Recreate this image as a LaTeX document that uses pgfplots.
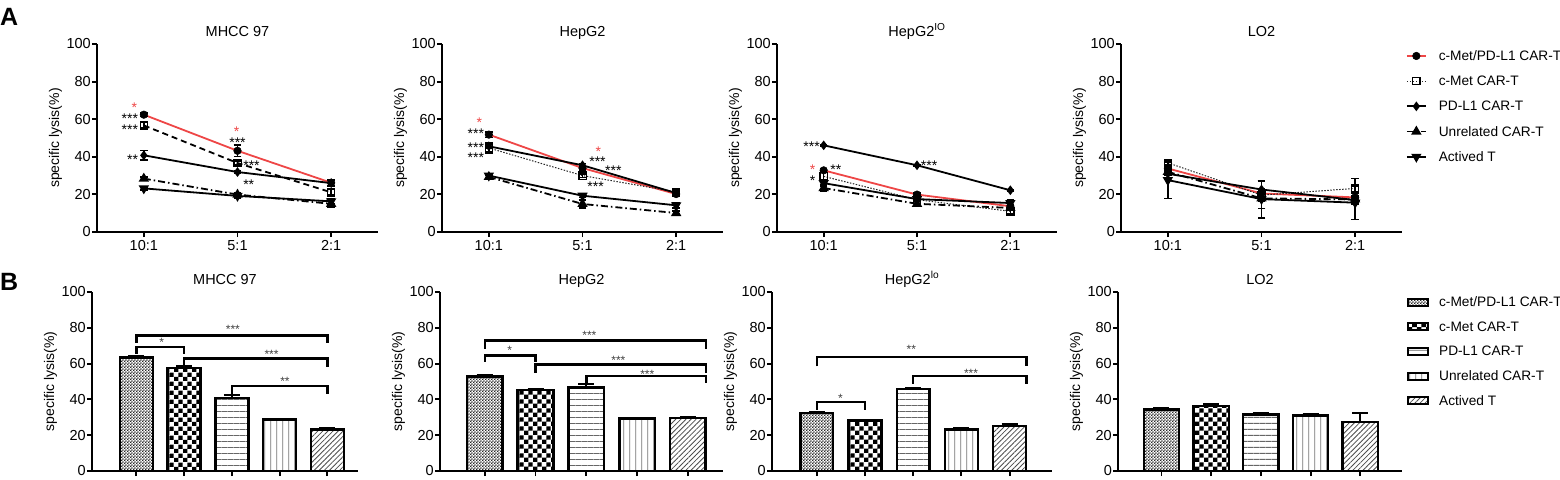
\documentclass[border=0pt]{standalone}
\usepackage{fontspec}
\setmainfont{Liberation Sans}
\usepackage{pgfplots}
\pgfplotsset{compat=1.18}
\usetikzlibrary{patterns,patterns.meta}
\definecolor{myred}{RGB}{238,70,70}

\pgfdeclarepatternformonly{bigcheck}{\pgfqpoint{0pt}{0pt}}{\pgfqpoint{9.2pt}{9.2pt}}{\pgfqpoint{9.2pt}{9.2pt}}{%
  \pgfpathrectangle{\pgfqpoint{0pt}{0pt}}{\pgfqpoint{4.6pt}{4.6pt}}%
  \pgfpathrectangle{\pgfqpoint{4.6pt}{4.6pt}}{\pgfqpoint{4.6pt}{4.6pt}}%
  \pgfusepath{fill}}
\pgfdeclarepatternformonly{smallcheck}{\pgfqpoint{0pt}{0pt}}{\pgfqpoint{3.2pt}{3.2pt}}{\pgfqpoint{3.2pt}{3.2pt}}{%
  \pgfpathrectangle{\pgfqpoint{0pt}{0pt}}{\pgfqpoint{1.6pt}{1.6pt}}%
  \pgfpathrectangle{\pgfqpoint{1.6pt}{1.6pt}}{\pgfqpoint{1.6pt}{1.6pt}}%
  \pgfusepath{fill}}
\pgfdeclarepatternformonly{hlines}{\pgfqpoint{0pt}{0pt}}{\pgfqpoint{6pt}{6pt}}{\pgfqpoint{6pt}{6pt}}{%
  \pgfsetlinewidth{0.9pt}%
  \pgfpathmoveto{\pgfqpoint{-0.5pt}{3pt}}\pgfpathlineto{\pgfqpoint{6.5pt}{3pt}}%
  \pgfusepath{stroke}}
\pgfdeclarepatternformonly{vlines}{\pgfqpoint{0pt}{0pt}}{\pgfqpoint{5.7pt}{5.7pt}}{\pgfqpoint{5.7pt}{5.7pt}}{%
  \pgfsetlinewidth{0.9pt}%
  \pgfpathmoveto{\pgfqpoint{2.85pt}{-0.5pt}}\pgfpathlineto{\pgfqpoint{2.85pt}{6.2pt}}%
  \pgfusepath{stroke}}

\pgfplotsset{
  common/.style={
    scale only axis, clip=false, anchor=south west,
    axis x line*=bottom, axis y line*=left,
    ymin=0, ymax=100, ytick={0,20,40,60,80,100},
    tick align=outside, major tick length=5pt,
    axis line style={line width=1.9pt, black},
    major tick style={line width=1.9pt, black},
    /pgf/number format/assume math mode=true,
    tick label style={font=\fontsize{14.5}{16}\selectfont},
    yticklabel style={inner sep=1pt},
    ylabel={specific lysis(\%)},
    ylabel style={font=\fontsize{14}{16}\selectfont},
    title style={font=\fontsize{14.5}{16}\selectfont, anchor=base, yshift=2pt},
  },
  toprow/.style={common, width=281pt, height=188pt, xmin=-0.5, xmax=2.5,
    xtick={0,1,2}, xticklabels={10:1,5:1,2:1}},
  botrow/.style={common, height=179pt, ybar, xtick={0,1,2,3,4}, xticklabels={}},
  eb/.style={/pgfplots/error bars/y dir=both, /pgfplots/error bars/y explicit,
    /pgfplots/error bars/error bar style={line width=1.6pt, solid, black},
    /pgfplots/error bars/error mark options={rotate=90, mark size=3.8pt, line width=1.6pt, black, solid}},
  ebb/.style={/pgfplots/error bars/y dir=plus, /pgfplots/error bars/y explicit,
    /pgfplots/error bars/error bar style={line width=2.3pt, solid, black},
    /pgfplots/error bars/error mark options={rotate=90, mark size=8pt, line width=2.3pt, black, solid}},
  sRed/.style={eb, color=myred, line width=1.8pt, solid, mark=*, mark size=3.8pt,
    mark options={fill=black, draw=black, solid, line width=0.5pt}},
  sCmet/.style={eb, color=black, line width=1.8pt, dash pattern=on 6pt off 4pt, mark=square, mark size=3.6pt,
    mark options={fill=white, draw=black, solid, line width=1.2pt}},
  sCmetDot/.style={eb, color=black!85, line width=1pt, dash pattern=on 1.5pt off 1.5pt, mark=square, mark size=3.6pt,
    mark options={fill=white, draw=black, solid, line width=1.2pt}},
  sPd/.style={eb, color=black, line width=1.8pt, solid, mark=diamond*, mark size=3.4pt, mark options={solid}},
  sUn/.style={eb, color=black, line width=1.8pt, dash pattern=on 7pt off 3pt on 1.5pt off 3pt, mark=triangle*, mark size=4.2pt, mark options={solid}},
  sAct/.style={eb, color=black, line width=1.8pt, solid, mark=triangle*, mark size=4.2pt, mark options={solid, rotate=180}},
  bb/.style={ebb, draw=black, line width=2.5pt, bar shift=0pt},
  b1/.style={bb, pattern=smallcheck, pattern color=black!85},
  b2/.style={bb, pattern=bigcheck, pattern color=black},
  b3/.style={bb, pattern=hlines, pattern color=black!60},
  b4/.style={bb, pattern=vlines, pattern color=black!55},
  b5/.style={bb, pattern={Lines[angle=45,distance=3.6pt,line width=0.8pt]}, pattern color=black!70},
}
\tikzset{
  star/.style={font=\fontsize{14}{16}\selectfont, inner sep=0pt, yshift=-3pt},
  bstar/.style={font=\fontsize{12}{14}\selectfont, inner sep=0pt, yshift=-2.5pt, text=black!75},
  br/.style={line width=2.4pt, black},
}

\begin{document}
\begin{tikzpicture}
\useasboundingbox (0pt,0pt) rectangle (1560pt,-479pt);
\node[anchor=base west, inner sep=0pt, font=\bfseries\fontsize{25}{28}\selectfont] at (0pt,-25pt) {A};
\node[anchor=base west, inner sep=0pt, font=\bfseries\fontsize{25}{28}\selectfont] at (0pt,-290pt) {B};

% ---------- Top row ----------
\begin{axis}[toprow, at={(97pt,-232pt)}, title={MHCC 97}]
\addplot[sRed] coordinates {(0,62.4) +- (0,1) (1,43.2) +- (0,3) (2,26.2) +- (0,1.8)};
\addplot[sCmet] coordinates {(0,56.7) +- (0,1.5) (1,36.7) +- (0,1.2) (2,21.1) +- (0,1.5)};
\addplot[sPd] coordinates {(0,40.8) +- (0,2.5) (1,31.9) +- (0,0.8) (2,26) +- (0,1.5)};
\addplot[sUn] coordinates {(0,28.4) +- (0,0.8) (1,19.9) +- (0,1) (2,15) +- (0,1.8)};
\addplot[sAct] coordinates {(0,23.2) +- (0,0.8) (1,19.2) +- (0,1.2) (2,16.3) +- (0,1.5)};
\node[star, text=myred] at (axis cs:-0.1,67.8) {*};
\node[star, anchor=east] at (axis cs:-0.06,61.7) {***};
\node[star, anchor=east] at (axis cs:-0.06,56) {***};
\node[star, anchor=east] at (axis cs:-0.06,40) {**};
\node[star, text=myred] at (axis cs:0.99,55) {*};
\node[star] at (axis cs:1.0,49) {***};
\node[star, anchor=west] at (axis cs:1.06,37) {***};
\node[star] at (axis cs:1.12,26.6) {**};
\end{axis}

\begin{axis}[toprow, at={(442pt,-232pt)}, title={HepG2}]
\addplot[sRed] coordinates {(0,51.8) +- (0,1.5) (1,34) +- (0,1) (2,20.2) +- (0,1)};
\addplot[sCmetDot] coordinates {(0,44.7) +- (0,2.8) (1,30) +- (0,1) (2,21.3) +- (0,1)};
\addplot[sPd] coordinates {(0,45.6) +- (0,1) (1,35.5) +- (0,1) (2,20.7) +- (0,1)};
\addplot[sUn] coordinates {(0,29.3) +- (0,1) (1,14.9) +- (0,2) (2,10.1) +- (0,1)};
\addplot[sAct] coordinates {(0,30) +- (0,1.2) (1,19.3) +- (0,1) (2,14.2) +- (0,1.5)};
\node[star, text=myred] at (axis cs:-0.1,59.6) {*};
\node[star, anchor=east] at (axis cs:-0.05,54) {***};
\node[star, anchor=east] at (axis cs:-0.05,46.5) {***};
\node[star, anchor=east] at (axis cs:-0.05,41.1) {***};
\node[star, text=myred] at (axis cs:1.17,44.5) {*};
\node[star] at (axis cs:1.16,38.8) {***};
\node[star] at (axis cs:1.33,34.4) {***};
\node[star] at (axis cs:1.14,25.7) {***};
\end{axis}

\begin{axis}[toprow, at={(777pt,-232pt)}, width=280pt, title={HepG2\textsuperscript{IO}}]
\addplot[sRed] coordinates {(0,32.8) +- (0,1) (1,19.9) +- (0,1) (2,13.7) +- (0,1)};
\addplot[sCmetDot] coordinates {(0,29.6) +- (0,2.5) (1,17.2) +- (0,1) (2,11) +- (0,1.5)};
\addplot[sPd] coordinates {(0,46.1) +- (0,0.5) (1,35.5) +- (0,0.5) (2,22.2) +- (0,0.5)};
\addplot[sUn] coordinates {(0,23.4) +- (0,1.5) (1,15) +- (0,1.5) (2,12.8) +- (0,1)};
\addplot[sAct] coordinates {(0,26) +- (0,1.5) (1,17.5) +- (0,1) (2,15.4) +- (0,1.5)};
\node[star, anchor=east] at (axis cs:-0.04,47.2) {***};
\node[star, text=myred] at (axis cs:-0.12,34.6) {*};
\node[star] at (axis cs:0.13,34.5) {**};
\node[star] at (axis cs:-0.12,28.9) {*};
\node[star, anchor=west] at (axis cs:1.04,37) {***};
\end{axis}

\begin{axis}[toprow, at={(1121pt,-232pt)}, title={LO2},
  legend style={at={(1.014,0.971)}, anchor=north west, draw=none, fill=none, inner sep=0pt, outer sep=0pt,
    row sep=12.2pt, nodes={inner sep=0pt, text height=11pt, text depth=2pt, font=\fontsize{13.7}{16}\selectfont},
    /tikz/every odd column/.append style={column sep=12pt}},
  legend cell align=left,
  legend image code/.code={\draw[mark repeat=2, mark phase=2, #1] plot coordinates {(0pt,0pt) (9.5pt,0pt) (19pt,0pt)};}]
\addplot[sRed] coordinates {(0,33.8) +- (0,2) (1,20.5) +- (0,2) (2,18.4) +- (0,2)};
\addlegendentry{c-Met/PD-L1 CAR-T}
\addplot[sCmetDot] coordinates {(0,36.8) +- (0,1.5) (1,19.6) +- (0,3) (2,23.2) +- (0,5.3)};
\addlegendentry{c-Met CAR-T}
\addplot[sPd] coordinates {(0,31) +- (0,2) (1,22.6) +- (0,4.5) (2,17) +- (0,2)};
\addlegendentry{PD-L1 CAR-T}
\addplot[sUn] coordinates {(0,32) +- (0,2) (1,17.9) +- (0,5.3) (2,17.3) +- (0,2)};
\addlegendentry{Unrelated CAR-T}
\addplot[sAct] coordinates {(0,27.6) +- (0,9.7) (1,17.5) +- (0,10) (2,15.6) +- (0,9)};
\addlegendentry{Actived T}
\end{axis}

% ---------- Bottom row ----------
\begin{axis}[botrow, at={(92pt,-471pt)}, width=266pt, xmin=-0.93, xmax=4.64, bar width=0.69, title={MHCC 97}]
\addplot[b1] coordinates {(0,63.3) +- (0,0.8)};
\addplot[b2] coordinates {(1,57.5) +- (0,0.8)};
\addplot[b3] coordinates {(2,40.8) +- (0,1.5)};
\addplot[b4] coordinates {(3,28.9) +- (0,0.3)};
\addplot[b5] coordinates {(4,23.3) +- (0,0.6)};
\draw[br] (axis cs:0,71.7) |- (axis cs:4,75.8) -- (axis cs:4,71.7);
\node[bstar] at (axis cs:2.02,80.8) {***};
\draw[br] (axis cs:0,65.5) |- (axis cs:1,69.3) -- (axis cs:1,65.5);
\node[bstar] at (axis cs:0.53,73) {*};
\draw[br] (axis cs:1,58.5) |- (axis cs:4,62.8) -- (axis cs:4,58);
\node[bstar] at (axis cs:2.83,66.8) {***};
\draw[br] (axis cs:2,42.5) |- (axis cs:4,47.5) -- (axis cs:4,42.8);
\node[bstar] at (axis cs:3.11,51.6) {**};
\end{axis}

\begin{axis}[botrow, at={(440pt,-471pt)}, width=283pt, xmin=-0.88, xmax=4.69, bar width=0.7, title={HepG2}]
\addplot[b1] coordinates {(0,52.7) +- (0,0.6)};
\addplot[b2] coordinates {(1,45.3) +- (0,0.5)};
\addplot[b3] coordinates {(2,46.6) +- (0,2.0)};
\addplot[b4] coordinates {(3,29.4) +- (0,0.2)};
\addplot[b5] coordinates {(4,29.7) +- (0,0.4)};
\draw[br] (axis cs:0,68.3) |- (axis cs:4.35,72.8) -- (axis cs:4.35,68.3);
\node[bstar] at (axis cs:2.06,77.4) {***};
\draw[br] (axis cs:0,61) |- (axis cs:1,64.6) -- (axis cs:1,61);
\node[bstar] at (axis cs:0.49,68.6) {*};
\draw[br] (axis cs:1,55) |- (axis cs:4.35,59.4) -- (axis cs:4.35,55);
\node[bstar] at (axis cs:2.63,63.3) {***};
\draw[br] (axis cs:2,49) |- (axis cs:4.35,53.2) -- (axis cs:4.35,49);
\node[bstar] at (axis cs:3.2,55.4) {***};
\end{axis}

\begin{axis}[botrow, at={(772pt,-471pt)}, width=280pt, xmin=-0.93, xmax=4.88, bar width=0.68, title={HepG2\textsuperscript{lo}}]
\addplot[b1] coordinates {(0,32.4) +- (0,0.6)};
\addplot[b2] coordinates {(1,28.3) +- (0,0.3)};
\addplot[b3] coordinates {(2,45.8) +- (0,0.6)};
\addplot[b4] coordinates {(3,23.3) +- (0,0.8)};
\addplot[b5] coordinates {(4,25.1) +- (0,1.0)};
\draw[br] (axis cs:0,58.5) |- (axis cs:4.35,63.7) -- (axis cs:4.35,58.5);
\node[bstar] at (axis cs:1.96,69.6) {**};
\draw[br] (axis cs:0,34.3) |- (axis cs:1,38.4) -- (axis cs:1,34.3);
\node[bstar] at (axis cs:0.49,41.9) {*};
\draw[br] (axis cs:2,48.8) |- (axis cs:4.35,53.1) -- (axis cs:4.35,48.8);
\node[bstar] at (axis cs:3.2,55.7) {***};
\end{axis}

\begin{axis}[botrow, at={(1118pt,-471pt)}, width=284pt, xmin=-0.875, xmax=4.84, bar width=0.71, title={LO2},
  legend style={at={(1.018,0.98)}, anchor=north west, draw=none, fill=none, inner sep=0pt, outer sep=0pt,
    row sep=11.7pt, nodes={inner sep=0pt, text height=11pt, text depth=2pt, font=\fontsize{13.7}{16}\selectfont},
    /tikz/every odd column/.append style={column sep=10pt}},
  legend cell align=left,
  legend image code/.code={\draw[#1, line width=2pt] (0pt,-3.5pt) rectangle (20pt,3.5pt);}]
\addplot[b1] coordinates {(0,34.5) +- (0,0.6)};
\addlegendentry{c-Met/PD-L1 CAR-T}
\addplot[b2] coordinates {(1,36.3) +- (0,1.0)};
\addlegendentry{c-Met CAR-T}
\addplot[b3] coordinates {(2,31.7) +- (0,0.6)};
\addlegendentry{PD-L1 CAR-T}
\addplot[b4] coordinates {(3,30.9) +- (0,1.0)};
\addlegendentry{Unrelated CAR-T}
\addplot[b5] coordinates {(4,27.4) +- (0,5.0)};
\addlegendentry{Actived T}
\end{axis}
\end{tikzpicture}
\end{document}
